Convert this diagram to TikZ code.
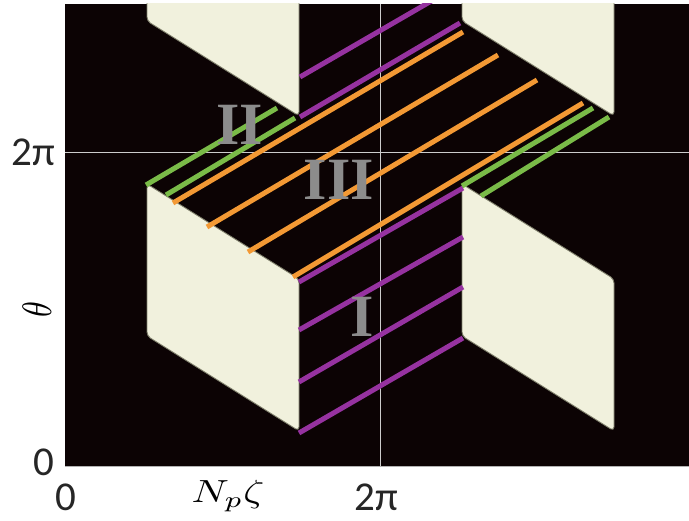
\documentclass[tikz,border=0pt]{standalone}
\usepackage{fontspec}
\newfontfamily\tickfont{Carlito}
\newfontfamily\romanfont{Liberation Serif}
\definecolor{plotbg}{RGB}{12,3,4}
\definecolor{cellfill}{RGB}{241,241,221}
\definecolor{cellrim}{RGB}{125,125,105}
\definecolor{sheetI}{RGB}{150,50,160}
\definecolor{sheetII}{RGB}{122,187,72}
\definecolor{sheetIII}{RGB}{243,153,52}
\definecolor{regiongray}{RGB}{140,140,140}

\begin{document}
\begin{tikzpicture}[x=1pt,y=1pt,cell/.style={fill=cellfill,draw=cellrim,line width=0.9pt,rounded corners=4pt},fieldline/.style={line width=5pt},gridline/.style={draw=black!20,line width=0.7pt},tick/.style={font=\tickfont\fontsize{41}{41}\selectfont,inner sep=0pt,text=black!85},region/.style={font=\romanfont\bfseries\fontsize{60}{60}\selectfont,text=regiongray,inner sep=0pt},axislabel/.style={inner sep=0pt}]
\useasboundingbox (-65,-55) rectangle (624,466);
\fill[plotbg] (0,0) rectangle (624,462);
\draw[black!30,line width=0.6pt] (0,0) -- (624,0);
\draw[gridline] (315,0) -- (315,462);
\draw[gridline] (0,314) -- (624,314);
\begin{scope}
\clip (0,0) rectangle (624,462);
% cells, one per period
\draw[cell] (82,130) -- (234,35) -- (234,187) -- (82,282) -- cycle;
\draw[cell] (397,130) -- (549,35) -- (549,187) -- (397,282) -- cycle;
\draw[cell] (82,445) -- (234,350) -- (234,502) -- (82,597) -- cycle;
\draw[cell] (397,445) -- (549,350) -- (549,502) -- (397,597) -- cycle;
% sheet I
\draw[fieldline,sheetI] (234,33) -- (398,128);
\draw[fieldline,sheetI] (234,84) -- (398,179);
\draw[fieldline,sheetI] (234,136) -- (398,229);
\draw[fieldline,sheetI] (234,184) -- (398,278);
\draw[fieldline,sheetI] (235,349) -- (395,443);
\draw[fieldline,sheetI] (235,389) -- (375,470);
% sheet III
\draw[fieldline,sheetIII] (108,263) -- (398,434);
\draw[fieldline,sheetIII] (142,239) -- (433,411);
\draw[fieldline,sheetIII] (183,214) -- (472,386);
\draw[fieldline,sheetIII] (228,189) -- (518,363);
% sheet II
\draw[fieldline,sheetII] (81,281) -- (212,358);
\draw[fieldline,sheetII] (101,271) -- (230,348);
\draw[fieldline,sheetII] (397,280) -- (528,358);
\draw[fieldline,sheetII] (416,270) -- (544,349);
\end{scope}
\node[region] (regI) at (297,149) {I};
\node[region] (regII) at (175,341) {II};
\node[region] (regIII) at (274,286) {III};
\node[tick] (xzero) at (1,-31) {0};
\node[tick] (xtwopi) at (311,-31) {2π};
\node[tick] (yzero) at (-21,4) {0};
\node[tick] (ytwopi) at (-32,314) {2π};
\node[axislabel] (xlabel) at (163,-30) {\scalebox{4.1}[3.2]{$N_p\zeta$}};
\node[axislabel] (ylabel) at (-28,156) {\scalebox{4.1}[3.2]{\rotatebox{90}{$\theta$}}};
\end{tikzpicture}
\end{document}
